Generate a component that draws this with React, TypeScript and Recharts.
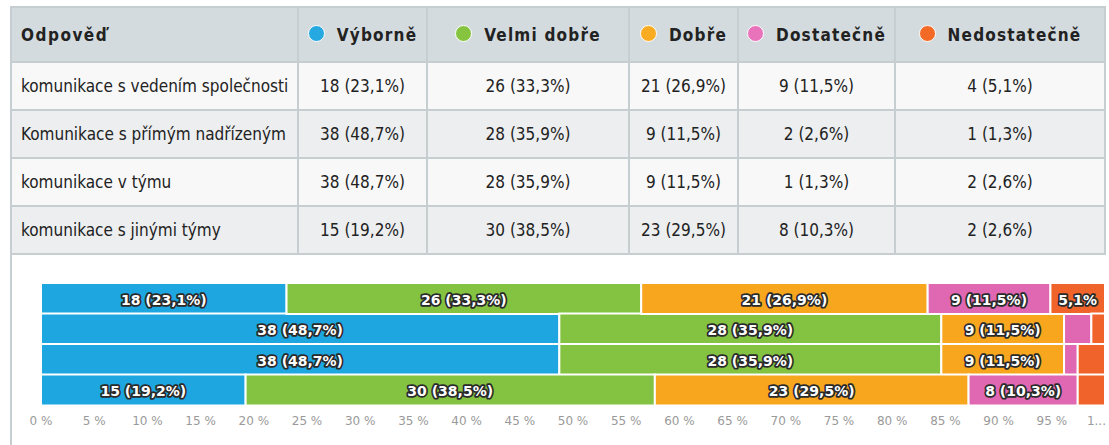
import React from "react";
import { BarChart, Bar, XAxis, YAxis, LabelList } from "recharts";

const rowLabels = [
  "komunikace s vedením společnosti",
  "Komunikace s přímým nadřízeným",
  "komunikace v týmu",
  "komunikace s jinými týmy",
];
const seriesNames = ["Výborně", "Velmi dobře", "Dobře", "Dostatečně", "Nedostatečně"];
const seriesColors = ["#1da6df", "#83c341", "#f9a61f", "#e067b1", "#f0632a"];
const dotColors = ["#25a9e0", "#86c440", "#f9ab22", "#e873bb", "#f26a26"];

const vyborne = [18, 38, 38, 15];
const velmiDobre = [26, 28, 28, 30];
const dobre = [21, 9, 9, 23];
const dostatecne = [9, 2, 1, 8];
const nedostatecne = [4, 1, 2, 2];

const xTicks = [0, 0.05, 0.1, 0.15, 0.2, 0.25, 0.3, 0.35, 0.4, 0.45, 0.5, 0.55, 0.6, 0.65, 0.7, 0.75, 0.8, 0.85, 0.9, 0.95, 1];

const series = [vyborne, velmiDobre, dobre, dostatecne, nedostatecne];
const colWidths = [287, 129, 202, 109, 157, 210];
const border = "2px solid #c6ced1";
const tableFont = "'DejaVu Sans Condensed', sans-serif";

function fmt(count: number, total: number) {
  const pct = ((count / total) * 100).toFixed(1).replace(".", ",");
  return `${count} (${pct}%)`;
}

const totals = rowLabels.map((_, i) => series.reduce((s, arr) => s + arr[i], 0));

const chartData = rowLabels.map((name, i) => {
  const row: any = { name };
  series.forEach((arr, k) => {
    row[`s${k}`] = arr[i];
    row[`l${k}`] = fmt(arr[i], totals[i]);
  });
  return row;
});

function SegmentLabel(props: any) {
  const { x, y, width, height, value } = props;
  const full = String(value);
  const m = full.match(/\((.*)\)/);
  const short = m ? m[1] : full;
  const charW = 8.3;
  let text = "";
  if (full.length * charW + 8 < width) text = full;
  else if (short.length * charW + 8 < width) text = short;
  if (!text) return null;
  return (
    <text
      x={x + width / 2}
      y={y + height / 2 + 1}
      textAnchor="middle"
      dominantBaseline="central"
      fill="#fff"
      stroke="#2a2a2a"
      strokeWidth={3.5}
      strokeLinejoin="round"
      paintOrder="stroke"
      style={{ fontFamily: "'DejaVu Sans', sans-serif", fontWeight: 700, fontSize: 14 }}
    >
      {text}
    </text>
  );
}

function XTick(props: any) {
  const { x, y, payload } = props;
  const p = Math.round(payload.value * 100);
  const last = p === 100;
  return (
    <text
      x={last ? x + 1 : x}
      y={y}
      dy="0.71em"
      textAnchor={last ? "end" : "middle"}
      fill="#9a9a9a"
      style={{ fontFamily: "'DejaVu Sans', sans-serif", fontSize: 12 }}
    >
      {last ? "1..." : `${p} %`}
    </text>
  );
}

export default function App() {
  return (
    <div style={{ position: "absolute", left: 0, top: 0, width: 1109, height: 445, background: "#fff", overflow: "hidden" }}>
      <table
        style={{
          position: "absolute",
          left: 10,
          top: 6,
          borderCollapse: "collapse",
          tableLayout: "fixed",
          width: 1094,
          fontFamily: tableFont,
          fontSize: 17,
          color: "#222",
        }}
      >
        <colgroup>
          {colWidths.map((w, i) => (
            <col key={i} style={{ width: w }} />
          ))}
        </colgroup>
        <thead>
          <tr style={{ background: "#d4dbde", height: 55 }}>
            <th style={{ border, textAlign: "left", paddingLeft: 9, fontWeight: 700, letterSpacing: 1.5 }}>Odpověď</th>
            {seriesNames.map((s, k) => (
              <th key={s} style={{ border, fontWeight: 700, letterSpacing: 1.2, whiteSpace: "nowrap" }}>
                <span
                  style={{
                    display: "inline-block",
                    width: 15,
                    height: 15,
                    borderRadius: "50%",
                    background: dotColors[k],
                    border: "1px solid #fff",
                    marginRight: 12,
                    verticalAlign: "-1px",
                  }}
                />
                {s}
              </th>
            ))}
          </tr>
        </thead>
        <tbody>
          {rowLabels.map((r, i) => (
            <tr key={r} style={{ background: i % 2 === 0 ? "#f8f8f8" : "#eceeef", height: 48 }}>
              <td style={{ border, paddingLeft: 9, whiteSpace: "nowrap" }}>{r}</td>
              {series.map((arr, k) => (
                <td key={k} style={{ border, textAlign: "center", whiteSpace: "nowrap" }}>
                  {fmt(arr[i], totals[i])}
                </td>
              ))}
            </tr>
          ))}
        </tbody>
      </table>
      <div style={{ position: "absolute", left: 10, top: 253, width: 2, height: 192, background: "#c6ced1" }} />
      <div style={{ position: "absolute", left: 0, top: 254 }}>
        <BarChart
          width={1109}
          height={191}
          data={chartData}
          layout="vertical"
          stackOffset="expand"
          barCategoryGap={0}
          margin={{ top: 29, right: 4, bottom: 10, left: 41 }}
        >
          <XAxis
            type="number"
            domain={[0, 1]}
            ticks={xTicks}
            interval={0}
            axisLine={false}
            tickLine={false}
            tickSize={8}
            tickMargin={3}
            height={30}
            tick={<XTick />}
          />
          <YAxis type="category" dataKey="name" hide />
          {seriesNames.map((s, k) => (
            <Bar
              key={s}
              dataKey={`s${k}`}
              stackId="a"
              fill={seriesColors[k]}
              stroke="#fff"
              strokeWidth={2}
              isAnimationActive={false}
            >
              <LabelList dataKey={`l${k}`} content={SegmentLabel} />
            </Bar>
          ))}
        </BarChart>
      </div>
    </div>
  );
}
